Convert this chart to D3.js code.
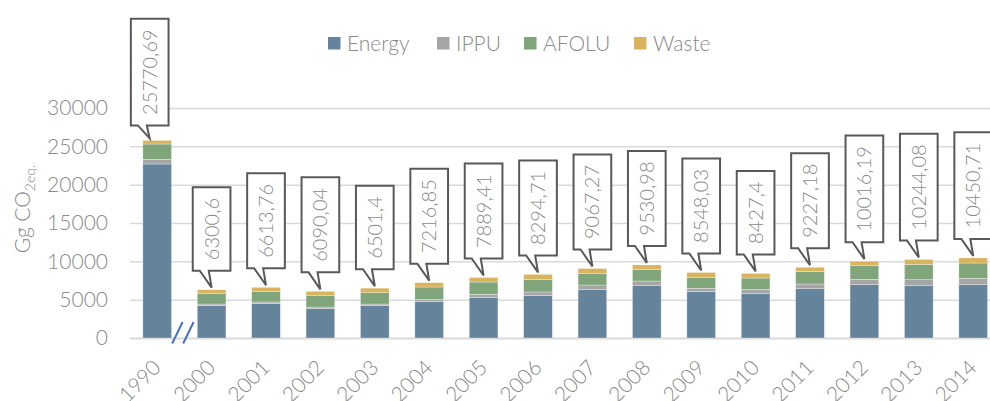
<!DOCTYPE html>
<html>
<head>
<meta charset="utf-8">
<script src="https://cdn.jsdelivr.net/npm/d3@7"></script>
<style>
    body { margin: 0; background: #fff; }
    svg { display: block; }
    text { font-family: Lato, "Open Sans", sans-serif; font-weight: 300; fill: #898989; }
</style>
</head>
<body>
<svg id="chart"></svg>
<script>
// values (Gg CO2 eq.)
const years = ['1990', '2000', '2001', '2002', '2003', '2004', '2005', '2006', '2007', '2008', '2009', '2010', '2011', '2012', '2013', '2014'];
const energy = [22700, 4260, 4520, 3870, 4220, 4730, 5260, 5520, 6350, 6820, 6040, 5780, 6430, 6950, 6820, 6950];
const ippu = [600, 170, 180, 170, 210, 310, 430, 480, 560, 610, 440, 570, 610, 700, 790, 830];
const afolu = [2000, 1350, 1340, 1480, 1480, 1610, 1610, 1650, 1530, 1480, 1440, 1470, 1610, 1780, 2000, 2000];
const waste = [470.69, 520.6, 573.76, 570.04, 591.4, 566.85, 589.41, 644.71, 627.27, 620.98, 628.03, 607.4, 577.18, 586.19, 634.08, 670.71];
const totals = [25770.69, 6300.6, 6613.76, 6090.04, 6501.4, 7216.85, 7889.41, 8294.71, 9067.27, 9530.98, 8548.03, 8427.4, 9227.18, 10016.19, 10244.08, 10450.71];
const seriesNames = ['Energy', 'IPPU', 'AFOLU', 'Waste'];
const yTicks = [0, 5000, 10000, 15000, 20000, 25000, 30000];

const colors = {Energy: '#65849b', IPPU: '#a5a5a5', AFOLU: '#80a57b', Waste: '#d9b35d'};

const width = 990, height = 401;
const margin = {left: 130, top: 108, bottom: 338};

const table = years.map((yr, i) => ({year: yr, Energy: energy[i], IPPU: ippu[i], AFOLU: afolu[i], Waste: waste[i]}));

const svg = d3.select('#chart')
    .attr('width', width)
    .attr('height', height);

const xScale = d3.scaleBand()
    .domain(years)
    .range([margin.left, 1000.4])
    .paddingInner(0.473)
    .paddingOuter(0.2365);

const yScale = d3.scaleLinear()
    .domain([0, 30000])
    .range([margin.bottom, margin.top]);

// gridlines + y labels
const yAxis = d3.axisLeft(yScale)
    .tickValues(yTicks)
    .tickSize(-(width - margin.left))
    .tickPadding(22)
    .tickFormat(d3.format('d'));

const yAxisGroup = svg.append('g')
    .attr('transform', `translate(${margin.left},0)`)
    .call(yAxis);
yAxisGroup.select('.domain').remove();
yAxisGroup.selectAll('line')
    .attr('stroke', '#d9d9d9')
    .attr('stroke-width', d => d === 0 ? 2 : 1.5);
yAxisGroup.selectAll('text')
    .style('font-size', '21px')
    .style('font-family', 'Lato, sans-serif')
    .attr('fill', '#898989');

// stacked bars
const stack = d3.stack().keys(seriesNames);
const layers = stack(table);

svg.append('g')
    .selectAll('g')
    .data(layers)
    .join('g')
        .attr('fill', d => colors[d.key])
    .selectAll('rect')
    .data(d => d)
    .join('rect')
        .attr('x', d => xScale(d.data.year))
        .attr('y', d => yScale(d[1]))
        .attr('width', xScale.bandwidth())
        .attr('height', d => yScale(d[0]) - yScale(d[1]))
        .attr('stroke', '#ffffff')
        .attr('stroke-opacity', 0.5)
        .attr('stroke-width', 0.6);

// axis break between 1990 and 2000
const breakX = (xScale('1990') + xScale.bandwidth() + xScale('2000')) / 2 - 1.5;
[-5.5, 5.5].forEach(off => {
    svg.append('line')
        .attr('x1', breakX + off - 5.2).attr('y1', margin.bottom + 5.5)
        .attr('x2', breakX + off + 5.2).attr('y2', margin.bottom - 16)
        .attr('stroke', '#4472c4')
        .attr('stroke-width', 2);
});

// x labels
svg.append('g')
    .selectAll('text')
    .data(years)
    .join('text')
        .attr('transform', d => `translate(${xScale(d) + xScale.bandwidth() / 2 + 5},369) rotate(-45)`)
        .attr('text-anchor', 'end')
        .style('font-size', '21px')
        .text(d => d);

// callouts with totals
const boxW = 37.7;
const callouts = svg.append('g');
totals.forEach((t, i) => {
    const barCx = xScale(years[i]) + xScale.bandwidth() / 2;
    const cx = i === 0 ? barCx - 7.5 : barCx;
    const barTop = yScale(t);
    const gap = i === 0 ? 15 : 19;

    const g = callouts.append('g');
    const path = g.append('path');
    const label = g.append('text')
        .attr('text-anchor', 'middle')
        .style('font-size', '20px')
        .text(String(t).replace('.', ','));

    const len = label.node().getComputedTextLength();
    const boxH = len + 21;
    const bottom = barTop - gap;
    const top = bottom - boxH;
    const left = cx - boxW / 2, right = cx + boxW / 2;

    path.attr('d', `M${left},${top} H${right} V${bottom} H${left + 16} L${cx},${barTop - 2} L${left + 7},${bottom} H${left} Z`)
        .attr('fill', '#ffffff')
        .attr('stroke', '#595959')
        .attr('stroke-width', 2)
        .attr('stroke-linejoin', 'miter');

    label.attr('transform', `translate(${cx + 7},${(top + bottom) / 2}) rotate(-90)`);
});

// legend
const legendX = [328, 437, 524, 634];
const legend = svg.append('g');
seriesNames.forEach((name, i) => {
    legend.append('rect')
        .attr('x', legendX[i]).attr('y', 37)
        .attr('width', 12.5).attr('height', 12.5)
        .attr('fill', colors[name]);
    legend.append('text')
        .attr('x', legendX[i] + 19).attr('y', 50.5)
        .style('font-size', '21px')
        .text(name);
});

// y title
const yTitle = svg.append('text')
    .attr('transform', 'translate(30,209) rotate(-90)')
    .attr('text-anchor', 'middle')
    .style('font-size', '21px');
yTitle.append('tspan').text('Gg CO');
yTitle.append('tspan').attr('dy', 5).style('font-size', '14px').text('2eq.');
</script>
</body>
</html>
